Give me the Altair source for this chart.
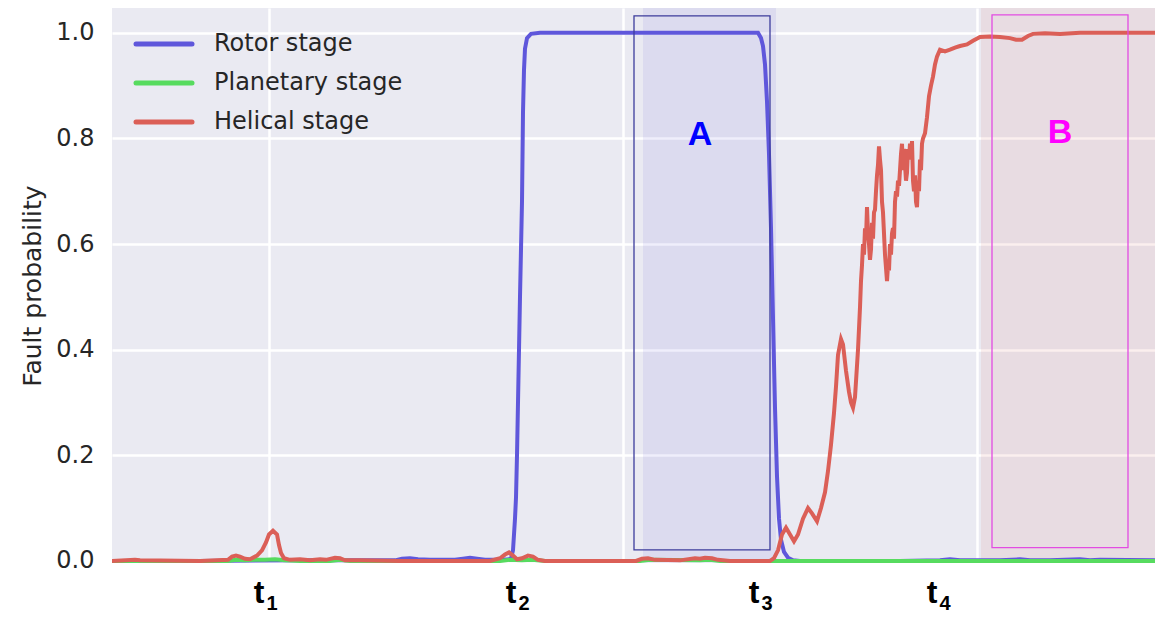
import altair as alt
import pandas as pd

# Fault probability of each gearbox stage along the record (sample index)
rotor_t = [112, 200, 300, 395, 402, 410, 418, 430, 455, 463, 470, 477, 485, 500, 508,
           511, 513, 515, 516, 517, 518, 520, 522, 523, 524, 525, 527, 531, 540, 600,
           700, 758, 761, 763, 765, 767, 769, 771, 773, 775, 777, 779, 781, 784, 788,
           793, 800, 900, 940, 950, 960, 1000, 1020, 1030, 1050, 1080, 1090, 1100, 1155]
rotor_p = [0.0, 0.0, 0.001, 0.001, 0.004, 0.005, 0.003, 0.002, 0.002, 0.004, 0.006, 0.004, 0.002, 0.002, 0.003,
           0.004, 0.02, 0.08, 0.12, 0.2, 0.3, 0.5, 0.68, 0.85, 0.93, 0.97, 0.99, 0.998, 1.0, 1.0,
           1.0, 1.0, 0.99, 0.975, 0.94, 0.87, 0.77, 0.63, 0.46, 0.29, 0.16, 0.08, 0.04, 0.017, 0.006,
           0.001, 0.0, 0.0, 0.001, 0.003, 0.001, 0.001, 0.003, 0.001, 0.001, 0.003, 0.001, 0.002, 0.001]

planet_t = [112, 228, 236, 245, 255, 265, 275, 285, 300, 330, 340, 350, 500, 510, 522, 532, 545,
            640, 650, 700, 710, 720, 800, 1155]
planet_p = [0.0, 0.0, 0.002, 0.001, 0.002, 0.002, 0.003, 0.001, 0.0, 0.0, 0.002, 0.0, 0.0, 0.002, 0.001, 0.002, 0.0,
            0.0, 0.002, 0.001, 0.002, 0.0, 0.0, 0.0]

helical_t = [112, 135, 140, 200, 228, 232, 236, 240, 245, 250, 257, 262, 266, 269, 273, 277,
             279, 281, 284, 290, 300, 310, 320, 326, 335, 340, 345, 360, 400, 450, 490,
             500, 505, 509, 513, 517, 522, 528, 533, 538, 545, 600, 636, 642, 648, 655,
             680, 695, 700, 705, 712, 718, 730, 770, 774, 778, 782, 786, 790, 794, 798,
             803, 808, 812, 817, 821, 825, 828, 831, 834, 836, 838, 841, 843, 846, 849,
             851, 853, 855, 857, 858, 859, 860, 861, 862, 863, 864, 865, 866, 867, 868,
             869, 870, 871, 872, 873, 874, 875, 876, 877, 878, 879, 880, 881, 882, 883,
             885, 887, 888, 889, 890, 891, 892, 893, 894, 895, 896, 897, 898, 899, 900,
             901, 902, 903, 904, 905, 906, 907, 908, 909, 910, 911, 912, 913, 914, 915,
             916, 917, 918, 919, 920, 921, 922, 923, 925, 927, 929, 931, 933, 935, 937,
             940, 945, 950, 955, 960, 967, 973, 980, 990, 1000, 1010, 1016, 1022, 1028, 1033,
             1045, 1060, 1080, 1100, 1120, 1155]
helical_p = [0.0, 0.002, 0.001, 0.0, 0.002, 0.008, 0.01, 0.008, 0.004, 0.003, 0.01, 0.02, 0.035, 0.05, 0.057, 0.05,
             0.03, 0.015, 0.005, 0.002, 0.003, 0.001, 0.003, 0.002, 0.006, 0.005, 0.001, 0.001, 0.0, 0.0, 0.0,
             0.005, 0.012, 0.016, 0.01, 0.003, 0.005, 0.01, 0.008, 0.002, 0.0, 0.0, 0.0, 0.004, 0.005, 0.002,
             0.001, 0.005, 0.004, 0.006, 0.005, 0.002, 0.0, 0.0, 0.005, 0.02, 0.05, 0.063, 0.05, 0.037, 0.05,
             0.08, 0.10, 0.09, 0.075, 0.1, 0.13, 0.17, 0.22, 0.28, 0.33, 0.39, 0.42, 0.41, 0.36, 0.32,
             0.30, 0.29, 0.31, 0.37, 0.40, 0.44, 0.48, 0.53, 0.56, 0.60, 0.58, 0.63, 0.61, 0.67, 0.62,
             0.60, 0.57, 0.59, 0.64, 0.61, 0.66, 0.665, 0.70, 0.73, 0.75, 0.785, 0.76, 0.74, 0.68, 0.66,
             0.58, 0.53, 0.56, 0.55, 0.60, 0.58, 0.62, 0.63, 0.61, 0.68, 0.70, 0.69, 0.72, 0.71, 0.74,
             0.77, 0.79, 0.74, 0.78, 0.75, 0.72, 0.735, 0.78, 0.76, 0.79, 0.77, 0.795, 0.72, 0.70, 0.73,
             0.68, 0.67, 0.72, 0.70, 0.76, 0.74, 0.79, 0.80, 0.81, 0.84, 0.88, 0.90, 0.917, 0.94, 0.955,
             0.968, 0.965, 0.968, 0.972, 0.975, 0.978, 0.985, 0.992, 0.993, 0.992, 0.99, 0.987, 0.987, 0.994, 0.998,
             0.999, 0.998, 1.0, 1.0, 1.0, 1.0]

stage_names = ["Rotor stage", "Planetary stage", "Helical stage"]
stage_colors = ["#5f57db", "#57db5f", "#db5f57"]

# fault onset markers t1..t4
marker_t = [259, 511, 754, 932]
marker_sub = ["1", "2", "3", "4"]

# highlighted windows A and B
region_names = ["A", "B"]
shade_start = [643, 981]
shade_end = [776, 1155]
shade_colors = ["#5f57db", "#db5f57"]
box_t0 = [634, 992]
box_t1 = [770, 1128]
box_p0 = [0.021, 0.025]
box_p1 = [1.032, 1.034]
box_colors = ["#3c3c9c", "#e24ce2"]
label_t = [700, 1060]
label_p = [0.788, 0.792]
label_colors = ["#0000ff", "#ff00ff"]

T_MIN, T_MAX = 112, 1155
grid_t = [269, 623, 977]

series = pd.concat([
    pd.DataFrame({"t": rotor_t, "p": rotor_p, "stage": stage_names[0]}),
    pd.DataFrame({"t": planet_t, "p": planet_p, "stage": stage_names[1]}),
    pd.DataFrame({"t": helical_t, "p": helical_p, "stage": stage_names[2]}),
])
regions = pd.DataFrame({
    "name": region_names, "s0": shade_start, "s1": shade_end, "shade": shade_colors,
    "b0": box_t0, "b1": box_t1, "p0": box_p0, "p1": box_p1, "box": box_colors,
    "lt": label_t, "lp": label_p, "lc": label_colors,
})
markers = pd.DataFrame({"t": marker_t, "sub": marker_sub, "main": ["t"] * len(marker_t)})

# legend rows, laid out in the top-left corner of the plot
LEGEND_TOP, LEGEND_ROW = 36, 39
legend_rows = pd.DataFrame({"stage": stage_names})
legend_rows["row_y"] = [LEGEND_TOP + LEGEND_ROW * i for i in range(len(stage_names))]

FONT = "DejaVu Sans"
x_scale = alt.Scale(domain=[T_MIN, T_MAX], nice=False, zero=False)
y_scale = alt.Scale(domain=[-0.004, 1.047], nice=False, zero=False)
stage_scale = alt.Scale(domain=stage_names, range=stage_colors)

x_axis = alt.Axis(values=grid_t, labels=False, ticks=False, domain=False, title=None,
                  grid=True, gridColor="white", gridWidth=2.5)
y_axis = alt.Axis(values=[0, 0.2, 0.4, 0.6, 0.8, 1.0], format=".1f", ticks=False, domain=False,
                  grid=True, gridColor="white", gridWidth=2.5,
                  labelFont=FONT, labelFontSize=24, labelColor="#262626", labelPadding=18,
                  title="Fault probability", titleFont=FONT, titleFontSize=25,
                  titleFontWeight="normal", titleColor="#262626", titlePadding=10)

shades = alt.Chart(regions).mark_rect(fillOpacity=0.1, strokeWidth=0).encode(
    x=alt.X("s0:Q", scale=x_scale, axis=x_axis),
    x2="s1:Q",
    fill=alt.Fill("shade:N", scale=None),
)

lines = [
    alt.Chart(series).transform_filter(alt.datum.stage == name).mark_line(
        strokeWidth=4, clip=True
    ).encode(
        x=alt.X("t:Q", scale=x_scale, axis=x_axis),
        y=alt.Y("p:Q", scale=y_scale, axis=y_axis),
        color=alt.Color("stage:N", scale=stage_scale, legend=None),
    )
    for name in stage_names
]

boxes = alt.Chart(regions).mark_rect(filled=False, strokeWidth=1.3).encode(
    x="b0:Q", x2="b1:Q", y="p0:Q", y2="p1:Q",
    stroke=alt.Color("box:N", scale=None),
)

letters = alt.Chart(regions).mark_text(
    font="Liberation Sans", fontWeight="bold", fontSize=34, align="center", baseline="alphabetic"
).encode(
    x="lt:Q", y="lp:Q", text="name:N", color=alt.Color("lc:N", scale=None),
)

t_main = alt.Chart(markers).mark_text(
    font="Liberation Sans", fontWeight="bold", fontSize=32, align="center",
    baseline="alphabetic", color="black"
).encode(x="t:Q", y=alt.datum(-0.0795), text="main:N")

t_sub = alt.Chart(markers).mark_text(
    font="Liberation Sans", fontWeight="bold", fontSize=20, align="center",
    baseline="alphabetic", color="black", dx=13, dy=7
).encode(x="t:Q", y=alt.datum(-0.0795), text="sub:N")

legend_lines = alt.Chart(legend_rows).mark_rule(strokeWidth=5, strokeCap="round").encode(
    x=alt.value(24), x2=alt.value(80),
    y=alt.Y("row_y:Q", scale=None),
    color=alt.Color("stage:N", scale=stage_scale, legend=None),
)
legend_text = alt.Chart(legend_rows).mark_text(
    font=FONT, fontSize=24, color="#262626", align="left", baseline="middle"
).encode(
    x=alt.value(102),
    y=alt.Y("row_y:Q", scale=None),
    text="stage:N",
)

chart = alt.layer(shades, *lines, boxes, letters, t_main, t_sub, legend_lines, legend_text).properties(
    width=1043, height=555,
    padding={"left": 112, "top": 8, "right": 0, "bottom": 58},
    autosize=alt.AutoSizeParams(type="none"),
    background="white",
).configure_view(fill="#eaeaf2", stroke=None)

chart.save("out.html", embed_options={"renderer": "svg", "actions": False})
